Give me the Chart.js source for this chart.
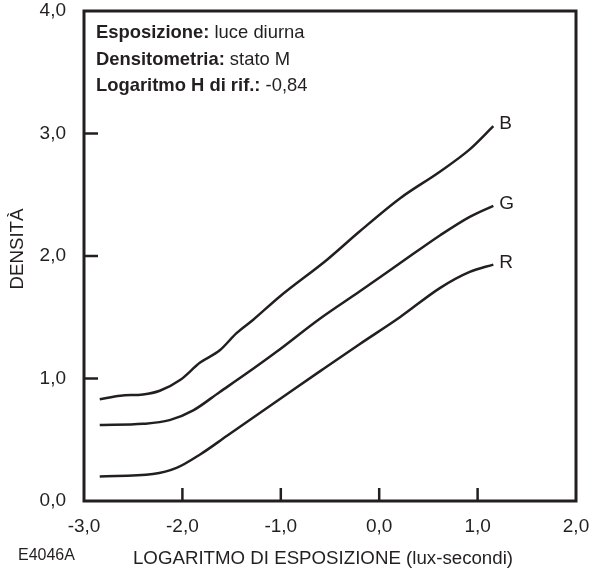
<!DOCTYPE html>
<html>
<head>
<meta charset="utf-8">
<script src="https://cdn.jsdelivr.net/npm/chart.js@4"></script>
<style>
html,body{margin:0;padding:0;background:#fff;}
#wrap{width:590px;height:573px;}
</style>
</head>
<body>
<div id="wrap"><canvas id="c" width="590" height="573"></canvas></div>
<script>
// Data
const xB = [-2.84,-2.63,-2.40,-2.23,-2.02,-1.82,-1.62,-1.45,-1.28,-1.01,-0.53,-0.20,0.21,0.62,0.92,1.16];
const yB = [0.83,0.86,0.87,0.90,0.99,1.13,1.23,1.37,1.48,1.67,1.97,2.20,2.47,2.69,2.87,3.06];
const xG = [-2.84,-2.40,-2.13,-1.89,-1.62,-1.35,-1.04,-0.60,-0.20,0.21,0.62,0.92,1.16];
const yG = [0.62,0.63,0.66,0.74,0.89,1.04,1.22,1.49,1.71,1.94,2.17,2.32,2.41];
const xR = [-2.84,-2.30,-2.06,-1.82,-1.55,-1.21,-0.87,-0.60,-0.20,0.21,0.62,0.92,1.16];
const yR = [0.20,0.22,0.27,0.38,0.53,0.72,0.91,1.06,1.28,1.50,1.74,1.87,1.93];
const seriesNames = ['B','G','R'];
const xTicks = [-3,-2,-1,0,1,2];
const yTicks = [0,1,2,3,4];
const xTitle = 'LOGARITMO DI ESPOSIZIONE (lux-secondi)';
const yTitle = 'DENSITÀ';
const codeLabel = 'E4046A';
const noteBold = ['Esposizione:','Densitometria:','Logaritmo H di rif.:'];
const noteReg = [' luce diurna',' stato M',' -0,84'];

const INK = '#231f20';
const FONT = '"Liberation Sans", Arial, Helvetica, sans-serif';

function pts(xs, ys){ return xs.map((x,i)=>({x:x, y:ys[i]})); }
function fmt(v){ const s = Number(v).toFixed(1).replace('.',','); return s === '-0,0' ? '0,0' : s; }
function noPad(s){ s.paddingTop = 0; s.paddingBottom = 0; s.paddingLeft = 0; s.paddingRight = 0; }

const decor = {
  id:'decor',
  afterDraw(chart){
    const ctx = chart.ctx, a = chart.chartArea;
    const xs = chart.scales.x, ys = chart.scales.y;
    ctx.save();
    // frame
    ctx.strokeStyle = INK; ctx.lineWidth = 3;
    ctx.strokeRect(a.left, a.top, a.right - a.left, a.bottom - a.top);
    // inward tick marks
    ctx.lineWidth = 2.5;
    xTicks.slice(1,-1).forEach(v=>{
      const p = xs.getPixelForValue(v);
      ctx.beginPath(); ctx.moveTo(p, a.bottom); ctx.lineTo(p, a.bottom - 13); ctx.stroke();
    });
    yTicks.slice(1,-1).forEach(v=>{
      const p = ys.getPixelForValue(v);
      ctx.beginPath(); ctx.moveTo(a.left, p); ctx.lineTo(a.left + 14, p); ctx.stroke();
    });
    // series end labels
    ctx.fillStyle = INK;
    ctx.font = '19px ' + FONT;
    ctx.textBaseline = 'middle'; ctx.textAlign = 'left';
    chart.data.datasets.forEach((ds, i)=>{
      const last = ds.data[ds.data.length-1];
      ctx.fillText(seriesNames[i], xs.getPixelForValue(last.x) + 6, ys.getPixelForValue(last.y) - 2);
    });
    // note box text
    ctx.textBaseline = 'alphabetic';
    noteBold.forEach((b, i)=>{
      const y = a.top + 27 + i*26.6;
      ctx.font = 'bold 18.4px ' + FONT;
      ctx.fillText(b, a.left + 12, y);
      const w = ctx.measureText(b).width;
      ctx.font = '18.4px ' + FONT;
      ctx.fillText(noteReg[i], a.left + 12 + w, y);
    });
    // axis titles
    ctx.font = '18.7px ' + FONT;
    ctx.textAlign = 'center'; ctx.textBaseline = 'middle';
    ctx.fillText(xTitle, (a.left + a.right)/2 - 7, 559);
    ctx.save();
    ctx.translate(18, 249);
    ctx.rotate(-Math.PI/2);
    ctx.fillText(yTitle, 0, 0);
    ctx.restore();
    ctx.font = '16px ' + FONT;
    ctx.textAlign = 'left';
    ctx.fillText(codeLabel, 18, 556);
    ctx.restore();
  }
};

new Chart(document.getElementById('c'), {
  type:'scatter',
  data:{
    datasets:[
      {label:'B', data:pts(xB,yB)},
      {label:'G', data:pts(xG,yG)},
      {label:'R', data:pts(xR,yR)}
    ].map(d=>Object.assign(d,{showLine:true, borderColor:INK, borderWidth:2.5, pointRadius:0, cubicInterpolationMode:'monotone', fill:false}))
  },
  options:{
    responsive:false,
    animation:false,
    devicePixelRatio:1,
    layout:{padding:{left:0, top:11, right:14, bottom:0}},
    plugins:{legend:{display:false}, tooltip:{enabled:false}},
    scales:{
      x:{
        type:'linear', min:-3, max:2,
        grid:{display:false, drawTicks:false},
        border:{display:false},
        afterBuildTicks(s){ s.ticks = xTicks.map(v=>({value:v})); },
        afterFit(s){ s.height = 72; noPad(s); },
        ticks:{padding:14, color:INK, font:{family:FONT, size:19}, callback:fmt, maxRotation:0, autoSkip:false}
      },
      y:{
        type:'linear', min:0, max:4,
        grid:{display:false, drawTicks:false},
        border:{display:false},
        afterBuildTicks(s){ s.ticks = yTicks.map(v=>({value:v})); },
        afterFit(s){ s.width = 84; noPad(s); },
        ticks:{padding:18, color:INK, font:{family:FONT, size:19}, callback:fmt, autoSkip:false}
      }
    }
  },
  plugins:[decor]
});
</script>
</body>
</html>
